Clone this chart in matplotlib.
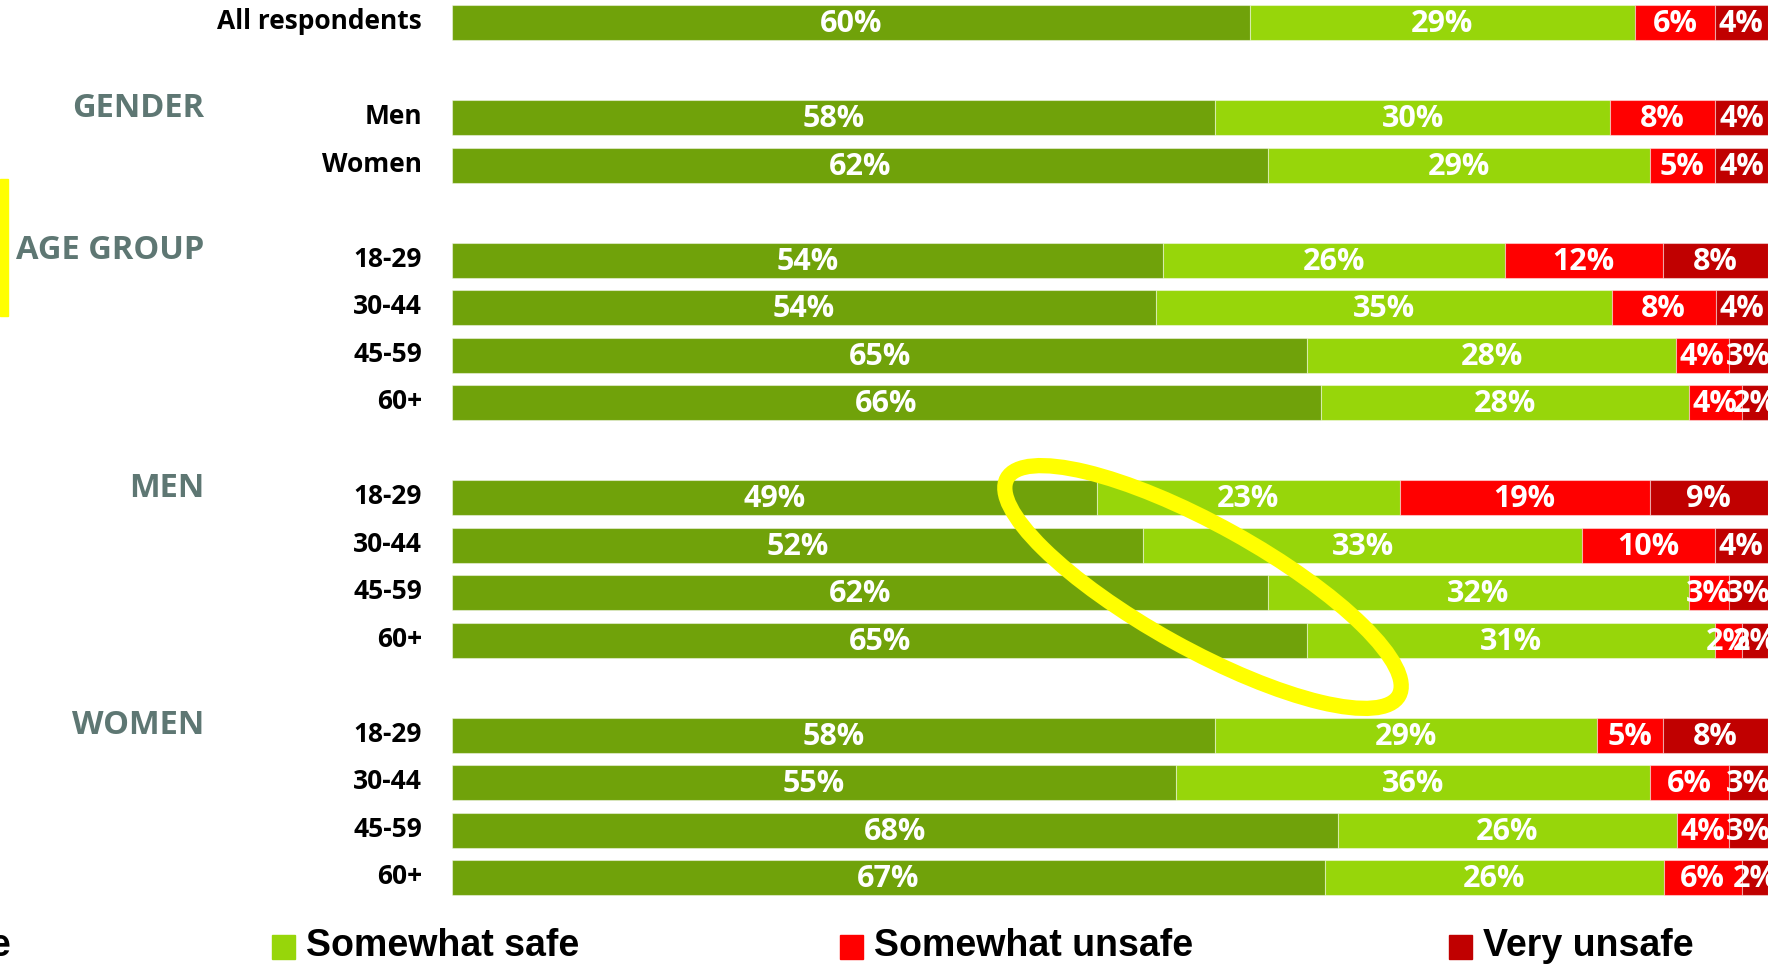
import numpy as np
import matplotlib
matplotlib.use("Agg")
import matplotlib.pyplot as plt
from matplotlib.patches import Ellipse, Rectangle
from matplotlib.transforms import blended_transform_factory

# ---------- DATA ----------
groups      = ["", "GENDER", "AGE GROUP", "MEN", "WOMEN"]
group_rows  = [
    ["All respondents"],
    ["Men", "Women"],
    ["18-29", "30-44", "45-59", "60+"],
    ["18-29", "30-44", "45-59", "60+"],
    ["18-29", "30-44", "45-59", "60+"],
]
very_safe       = [60, 58, 62, 54, 54, 65, 66, 49, 52, 62, 65, 58, 55, 68, 67]
somewhat_safe   = [29, 30, 29, 26, 35, 28, 28, 23, 33, 32, 31, 29, 36, 26, 26]
somewhat_unsafe = [6, 8, 5, 12, 8, 4, 4, 19, 10, 3, 2, 5, 6, 4, 6]
very_unsafe     = [4, 4, 4, 8, 4, 3, 2, 9, 4, 3, 2, 8, 3, 3, 2]
series_names    = ["Very safe", "Somewhat safe", "Somewhat unsafe", "Very unsafe"]

# ---------- STYLE ----------
COLORS   = ["#70A20A", "#97D60A", "#FF0000", "#C00000"]
HEAD_COL = "#5E7773"
YELLOW   = "#FFFF00"
W, H     = 1779, 966
LAB_FONT = ["Open Sans", "DejaVu Sans"]
LEG_FONT = ["Liberation Sans Narrow", "Liberation Sans", "DejaVu Sans"]

# row positions: one blank row between groups
pos, labels, head_pos = [], [], []
p = 0
for g, rows in zip(groups, group_rows):
    head_pos.append(p)
    for r in rows:
        pos.append(p)
        labels.append(r)
        p += 1
    p += 1
pos = np.array(pos, dtype=float)

vals = np.array([very_safe, somewhat_safe, somewhat_unsafe, very_unsafe], dtype=float)
shares = vals / vals.sum(axis=0) * 100

fig = plt.figure(figsize=(W / 100, H / 100), dpi=100)
fig.patch.set_facecolor("white")

# bar axes: 0..100 % across x = 452..1768 px, row centres 22.7 + 47.5*r px
x0, x1 = 452, 1768
row0, step = 22.7, 47.5
ax = fig.add_axes([x0 / W, 0, (x1 - x0) / W, 1])
ax.set_xlim(0, 100)
ax.set_ylim((H - row0) / step, -row0 / step)
ax.axis("off")

left = np.zeros(len(pos))
for i, (name, col) in enumerate(zip(series_names, COLORS)):
    ax.barh(pos, shares[i], left=left, height=0.74, color=col,
            edgecolor=(1, 1, 1, 0.45), linewidth=0.8)
    for y, l, w, v in zip(pos, left, shares[i], vals[i]):
        ax.text(l + w / 2, y + 0.03, f"{int(v)}%", ha="center", va="center",
                color="white", fontsize=22, fontweight="bold",
                family=LAB_FONT, clip_on=False)
    left += shares[i]

# row labels and group headers
tr = blended_transform_factory(fig.transFigure, ax.transData)
for y, lab in zip(pos, labels):
    ax.text(422 / W, y - 0.02, lab, transform=tr, ha="right", va="center",
            fontsize=19, fontweight="bold", color="black", family=LAB_FONT)
for g, hp in zip(groups, head_pos):
    if g:
        ax.text(204 / W, hp - 0.2, g, transform=tr, ha="right", va="center",
                fontsize=23.5, fontweight="bold", color=HEAD_COL, family=LAB_FONT)

# overlay in pixel coords for legend and annotations
ov = fig.add_axes([0, 0, 1, 1], facecolor="none")
ov.set_xlim(0, W)
ov.set_ylim(H, 0)
ov.axis("off")

leg_x = [-188, 272, 840, 1449]
for lx, name, col in zip(leg_x, series_names, COLORS):
    ov.add_patch(Rectangle((lx, 935), 23, 24, color=col))
    ov.text(lx + 34, 946, name, ha="left", va="center", fontsize=27,
            fontweight="bold", color="black", family=LEG_FONT)

# highlight marks
ov.add_patch(Rectangle((0, 179), 8, 137, color=YELLOW))
ov.add_patch(Ellipse((1203, 587), 2 * 224, 2 * 62, angle=29, fill=False,
                     edgecolor=YELLOW, linewidth=11))

fig.savefig("out.png", dpi=100, facecolor="white")
plt.close(fig)
